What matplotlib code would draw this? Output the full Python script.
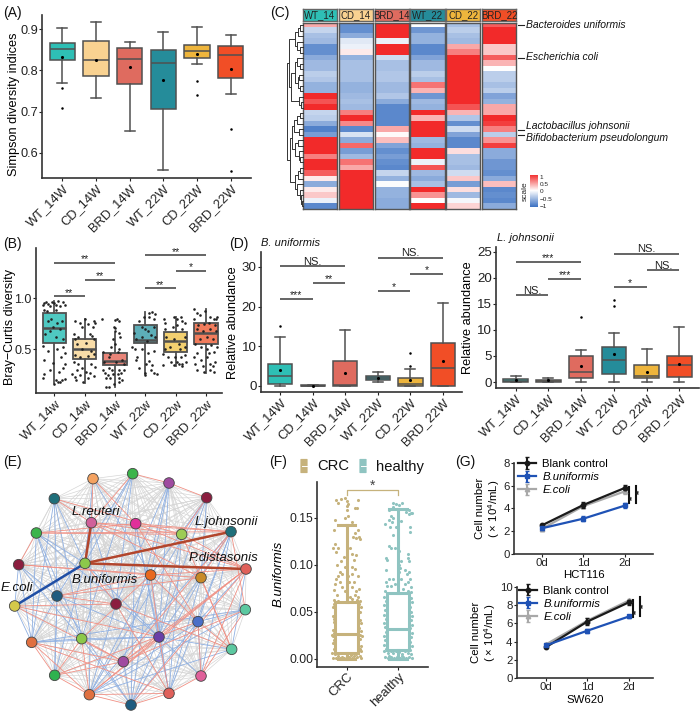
import matplotlib
matplotlib.use("Agg")
import matplotlib.pyplot as plt
from matplotlib.colors import LinearSegmentedColormap
from matplotlib.patches import FancyBboxPatch
from itertools import combinations

plt.rcParams['font.family'] = ['Liberation Sans', 'DejaVu Sans']
plt.rcParams['mathtext.default'] = 'regular'
plt.rcParams['axes.spines.top'] = False
plt.rcParams['axes.spines.right'] = False

W, H = 700, 711

# colours of the six mouse groups
box_colors = ['#2EBFB5', '#F9D291', '#DF6B5F', '#258C9A', '#EEB53C', '#F14E26']
box_colors_b = ['#4FC9C2', '#F9DDA8', '#E98579', '#5DAEB8', '#F3D070', '#F17C5C']

# panel A
groups_W = ['WT_14W', 'CD_14W', 'BRD_14W', 'WT_22W', 'CD_22W', 'BRD_22W']
a_wlo = [.769, .732, .653, .558, .815, .743]
a_q1 = [.826, .787, .768, .705, .831, .782]
a_med = [.851, .825, .828, .818, .847, .836]
a_q3 = [.866, .872, .855, .848, .862, .858]
a_whi = [.903, .918, .869, .894, .906, .886]
a_mean = [.833, .826, .807, .776, .840, .804]
a_fliers = [[.758, .708], [], [], [], [.774, .741], [.658, .555]]

# panel B
groups_w = ['WT_14w', 'CD_14w', 'BRD_14w', 'WT_22w', 'CD_22w', 'BRD_22w']
b_wlo = [.17, .17, .13, .26, .34, .27]
b_q1 = [.56, .405, .345, .56, .475, .55]
b_med = [.71, .505, .39, .59, .585, .66]
b_q3 = [.86, .60, .465, .74, .67, .76]
b_whi = [.97, .80, .66, .87, .82, .90]
b_pts = [
    [(-.38, .93), (-.33, .95), (-.26, .96), (-.2, .94), (-.14, .92), (-.08, .96), (0, .95), (.06, .93), (.12, .97),
     (.2, .92), (.28, .96), (.34, .93), (-.35, .89), (-.25, .88), (.05, .89), (-.2, .78), (-.1, .8), (.1, .76),
     (.25, .78), (-.3, .65), (-.15, .68), (.05, .62), (.2, .7), (.3, .6), (-.05, .72), (-.38, .53), (-.2, .48),
     (.1, .5), (.28, .52), (.34, .46), (-.32, .4), (-.05, .37), (.22, .42), (.3, .32), (.15, .28), (.36, .36),
     (-.35, .26), (-.36, .22), (.05, .2), (.25, .2), (.34, .21), (-.02, .16), (.12, .18), (-.15, .3), (.2, .18)],
    [(-.3, .78), (-.15, .76), (-.1, .72), (0, .8), (.12, .75), (.3, .78), (.36, .76), (.28, .72), (-.35, .65),
     (-.3, .6), (-.2, .62), (.18, .65), (.25, .63), (.3, .6), (-.25, .55), (-.1, .5), (.05, .56), (.2, .48), (.3, .45),
     (-.3, .44), (-.15, .42), (.12, .43), (-.36, .38), (-.2, .36), (.2, .36), (.35, .33), (-.25, .3), (-.1, .32),
     (.05, .28), (.18, .27), (-.4, .26), (-.32, .23), (-.28, .2), (-.15, .25), (-.05, .18), (.1, .22), (.3, .24)],
    [(-.42, .8), (.0, .71), (-.02, .72), (.0, .68), (.02, .79), (.08, .8), (.15, .78), (.12, .66), (.18, .62),
     (-.05, .6), (.0, .55), (-.12, .52), (.12, .5), (-.38, .47), (-.15, .45), (.1, .47), (-.2, .42), (.25, .4),
     (-.35, .38), (.05, .38), (.3, .36), (-.38, .3), (-.2, .32), (-.08, .3), (.12, .3), (.3, .3), (-.34, .27),
     (-.22, .25), (-.05, .26), (.1, .26), (.2, .27), (-.3, .22), (-.15, .22), (.15, .22), (.22, .2), (-.02, .16),
     (-.28, .13), (-.2, .13), (.12, .18)],
    [(-.05, .82), (.12, .86), (.22, .87), (.32, .85), (.3, .8), (.12, .82), (-.2, .78), (-.38, .66), (-.12, .72),
     (.0, .7), (.08, .68), (.28, .72), (-.3, .6), (-.12, .62), (.05, .58), (.2, .64), (.33, .62), (-.42, .52),
     (-.35, .5), (-.1, .5), (.1, .46), (.28, .48), (-.28, .42), (.02, .36), (.22, .35), (-.2, .32), (.0, .27), (.2, .3),
     (.3, .27), (.38, .26), (-.02, .25), (-.3, .4), (.14, .39)],
    [(-.38, .8), (-.35, .76), (-.05, .82), (.05, .8), (.2, .78), (.18, .82), (.3, .76), (-.35, .7), (-.1, .72),
     (.05, .74), (.2, .7), (-.3, .62), (-.05, .6), (.3, .62), (.1, .55), (-.35, .5), (-.2, .52), (.15, .5), (.32, .52),
     (-.4, .45), (-.25, .42), (-.02, .42), (.18, .42), (.32, .44), (-.15, .38), (.05, .38), (.2, .36), (-.42, .35),
     (-.05, .35), (.1, .36), (.22, .34), (.34, .38)],
    [(-.38, .9), (-.3, .86), (-.2, .84), (-.02, .88), (.12, .82), (.28, .8), (.33, .8), (.38, .82), (-.38, .8),
     (-.25, .74), (-.05, .75), (.1, .76), (.3, .74), (-.3, .7), (-.1, .68), (.15, .7), (.32, .68), (-.2, .6), (.05, .62),
     (.24, .6), (-.35, .55), (-.15, .52), (.02, .5), (.18, .54), (.36, .52), (-.3, .46), (.1, .46), (.25, .47),
     (-.38, .42), (-.15, .4), (.05, .42), (.3, .38), (-.36, .36), (-.1, .34), (.12, .36), (.22, .34), (-.3, .3),
     (-.05, .28), (.12, .3), (.25, .28)],
]
b_sig_left = [0, 1, 0, 3, 4, 3]
b_sig_right = [1, 2, 2, 4, 5, 5]
b_sig_y = [1.02, 1.18, 1.35, 1.1, 1.27, 1.42]
b_sig_text = ['**', '**', '**', '**', '*', '**']

# panel C
heat_names = ['WT_14', 'CD_14', 'BRD_14', 'WT_22', 'CD_22', 'BRD_22']
heat_wt14 = [.4, -.3, -.45, -.5, -.8, -.8, -.6, -.5, -.5, -.35, -.4, -.55, -.55, 1, .8, 1, -.3,
             -.35, -.6, -.9, -.7, 1, 1, 1, .6, 1, 1, .75, .1, -.6, .1, .25, -.1, -.85]
heat_cd14 = [-.8, -.8, -.6, -.15, -.1, .1, -.55, -.45, -.45, -.45, -.45, -.55, -.55, -.5, -.45, -.5, .6,
             1, .55, -.85, -.2, -.6, .7, -.7, -.5, .65, .4, 1, 1, 1, 1, 1, 1, 1]
heat_brd14 = [1, 1, 1, -.1, 1, 1, -.25, -.45, -.45, -.4, -.4, -.5, -.5, -.4, -.6, -.85, -.85,
              -.85, -.85, .4, .02, .3, -.65, -.8, -.7, -.8, -.85, -.3, -.55, -.02, -.55, -.55, -.6, -.6]
heat_wt22 = [0, -.75, -.55, -.55, -.85, -.85, -.65, -.5, -.5, -.35, -.45, .65, .35, -.75, -.5, -.55, 1,
             .35, 1, 1, 1, -.5, -.55, 1, 1, -.1, .8, -.5, -.6, -.45, 1, .5, 0, 1]
heat_cd22 = [-.45, -.35, -.45, -.5, .4, .6, 1, 1, 1, 1, 1, 1, 1, 1, 1, .8, .35,
             -.4, -.8, -.25, -.65, -.85, -.85, .15, -.45, -.45, -.5, -.25, .25, -.7, .15, -.5, -.05, .2]
heat_brd22 = [.75, 1, 1, 1, .25, .25, .75, .35, 0, -.35, -.35, -.45, -.35, -.65, -.55, .4, .4,
              1, .9, .6, -.35, .5, .9, -.6, -.6, -.75, -.75, -.8, -.6, .3, -.85, -.8, -.85, -.6]
heat_columns = [heat_wt14, heat_cd14, heat_brd14, heat_wt22, heat_cd22, heat_brd22]
heat_header = ['#2EBFB5', '#F9D291', '#DF6B5F', '#258C9A', '#EEB53C', '#F14E26']
scale_ticks = [1, .5, 0, -.5, -1]
scale_labels = ['1', '0.5', '0', '\u22120.5', '\u22121']
species = ['Bacteroides uniformis', 'Escherichia coli', 'Lactobacillus johnsonii', 'Bifidobacterium pseudolongum']

# row tree, each node is [height, left, right]
upper_a = [24, [14, [8, 0, 1], 2], [18, 3, [9, 4, 5]]]
upper_b = [34, [22, [16, 6, [10, 7, 8]], [14, [12, 9, 10], [8, 11, 12]]], [12, 13, [7, 14, 15]]]
lower_a = [26, [16, [10, 16, 17], 18], [12, 19, 20]]
lower_b = [22, [14, 21, 22], [12, 23, [8, 24, 25]]]
lower_c = [24, [14, [8, 26, 27], 28], [16, 29, [10, 30, [6, 31, [4, 32, 33]]]]]
row_tree = [46, [40, upper_a, upper_b], [38, [32, lower_a, lower_b], lower_c]]

# panel D
d1_wlo = [.1, 0, .1, 1, .1, .1]
d1_q1 = [.6, .1, .1, 1.5, .1, .1]
d1_med = [2.6, .1, .2, 2.1, .4, 4.5]
d1_q3 = [5.6, .15, 6.4, 2.6, 1.9, 10.8]
d1_whi = [12.3, .15, 14.1, 3.6, 4.4, 20.9]
d1_mean = [4, .1, 3.2, 2, 1.4, 6.2]
d1_fliers = [[15], [], [], [], [5, 8.2], []]
d1_sig_left = [0, 1, 0, 3, 4, 3]
d1_sig_right = [1, 2, 2, 4, 5, 5]
d1_sig_y = [22, 26, 30.2, 24, 28.2, 32.3]
d1_sig_text = ['***', '**', 'NS.', '*', '*', 'NS.']

d2_wlo = [0, 0, 0, 0, 0, .1]
d2_q1 = [.05, .05, .7, 1.6, .7, .9]
d2_med = [.2, .15, 1.9, 4.2, 1.1, 3.3]
d2_q3 = [.5, .3, 4.9, 6.8, 3.2, 4.9]
d2_whi = [1.2, .7, 6.2, 9.5, 6.3, 10.5]
d2_mean = [.3, .3, 3, 5.3, 1.9, 3.5]
d2_fliers = [[], [], [12.4], [14.6, 15.8], [], []]
d2_sig_left = [0, 1, 0, 3, 4, 3]
d2_sig_right = [1, 2, 2, 4, 5, 5]
d2_sig_y = [16.7, 19.8, 23, 18.2, 21.4, 24.6]
d2_sig_text = ['NS.', '***', '***', '*', 'NS.', 'NS.']

# panel E, node positions on a 870 x 873 canvas
node_x = [398, 507, 620, 693, 738, 736, 695, 603, 507, 393, 268, 164, 95, 44, 56, 109, 163, 279,
          274, 407, 545, 255, 452, 603, 171, 348, 594, 245, 477, 370]
node_y = [161, 189, 233, 335, 447, 569, 688, 768, 820, 855, 824, 766, 667, 558, 434, 339, 236, 176,
          308, 311, 343, 430, 465, 473, 528, 552, 605, 656, 651, 725]
node_colors = ['#3CB44B', '#A04BA0', '#8B1E3F', '#1F6F7A', '#E0605A', '#5CC8A0', '#5CC8A0', '#E0609A',
               '#E0605A', '#1F5C80', '#E07040', '#2FB24F', '#E07040', '#D4C94A', '#8B1E3F', '#3CB44B',
               '#1F6F7A', '#F4A261', '#D0609A', '#E0309A', '#9CCC55', '#8CC84B', '#E8681E', '#C88A28',
               '#1F5C80', '#8B1E3F', '#4A6FC8', '#8CC84B', '#6A3FA8', '#A04BA0']
red_edges = [(0, 1), (1, 2), (2, 20), (0, 18), (17, 18), (17, 19), (16, 20), (16, 18), (15, 19), (15, 20), (15, 3),
             (18, 3), (18, 20), (19, 4), (19, 3), (18, 4), (18, 23), (14, 22), (14, 23), (14, 15), (22, 4), (22, 26),
             (22, 28), (20, 4), (23, 3), (25, 21), (24, 23), (24, 22), (24, 25), (13, 25), (13, 28), (13, 29), (12, 8),
             (12, 10), (12, 29), (12, 11), (11, 10), (11, 29), (11, 26), (10, 28), (10, 4), (10, 9), (10, 8), (9, 4),
             (9, 8), (8, 28), (8, 7), (7, 5), (7, 4), (28, 4), (29, 4), (29, 3), (29, 28), (29, 5), (25, 8), (25, 6),
             (27, 11), (27, 10), (27, 22), (27, 29), (26, 6), (26, 7), (3, 5), (19, 26), (20, 6), (23, 6)]
blue_edges = [(0, 25), (0, 21), (0, 24), (0, 27), (1, 22), (1, 25), (1, 28), (1, 29), (2, 22), (2, 23), (2, 10),
              (2, 28), (3, 26), (3, 8), (3, 10), (3, 28), (3, 7), (4, 6), (4, 26), (15, 12), (15, 21), (15, 24),
              (15, 27), (15, 28), (16, 24), (16, 27), (16, 12), (16, 21), (17, 22), (17, 21), (14, 13), (14, 24),
              (14, 12), (14, 27), (13, 12), (24, 11), (24, 9), (24, 12), (24, 28), (12, 27), (12, 28), (27, 28),
              (27, 9), (10, 25), (10, 22), (10, 26), (10, 6), (10, 5), (9, 26), (9, 28), (9, 22), (9, 29), (8, 19),
              (8, 22), (7, 28), (7, 26), (5, 26), (6, 28), (19, 9), (19, 28), (20, 8), (20, 28), (23, 8), (23, 9),
              (21, 28), (18, 10), (18, 25), (11, 24), (11, 21), (12, 5)]
strong_red = [(21, 18), (21, 3), (21, 4)]
strong_blue = [(21, 13)]
node_names = ['L.reuteri', 'L.johnsonii', 'P.distasonis', 'B.uniformis', 'E.coli']
name_x = [215, 585, 565, 215, 3]
name_y = [276, 305, 413, 480, 505]

# panel F
f_names = ['CRC', 'healthy']
f_colors = ['#C6B27C', '#8FC4C1']
f_wlo = [0, 0]
f_q1 = [.006, .01]
f_med = [.027, .032]
f_q3 = [.061, .07]
f_whi = [.142, .159]
f_crc = [(-.2, .169), (-.17, .166), (-.12, .17), (-.03, .171), (0, .168), (.02, .165), (.01, .162), (.22, .169),
         (.16, .16), (.2, .16), (.0, .158), (.02, .152), (-.03, .15), (-.22, .148), (-.24, .137), (.1, .146),
         (.22, .137), (.16, .134), (.24, .13), (.18, .128), (.26, .127), (.12, .13), (-.22, .122), (-.16, .118),
         (-.26, .118), (-.2, .114), (.06, .118), (.1, .112), (.18, .11), (-.05, .108), (.14, .105), (-.12, .104),
         (-.18, .1), (-.04, .098), (.1, .098), (.16, .096), (-.14, .092), (-.1, .09), (-.16, .088), (.1, .09),
         (.03, .088), (.22, .088), (-.2, .085), (-.14, .082), (-.22, .08), (.05, .082), (.14, .082), (.1, .076),
         (-.1, .076), (-.24, .073), (-.04, .072), (.24, .074), (.18, .072), (.16, .068), (-.18, .068), (.06, .066),
         (.22, .066), (-.16, .062), (.2, .063), (.1, .064), (-.24, .058), (-.26, .055), (-.23, .05), (.24, .058),
         (.27, .055), (.25, .05), (-.27, .046), (-.24, .043), (-.25, .039), (.23, .045), (.26, .041), (.28, .038),
         (-.23, .034), (-.27, .031), (-.24, .028), (.24, .033), (.27, .03), (.25, .026), (-.26, .024), (-.24, .02),
         (-.27, .017), (-.23, .014), (.26, .021), (.23, .018), (.28, .014), (-.25, .011), (.25, .011), (.27, .008),
         (-.28, .006), (-.22, .005), (-.16, .003), (-.1, .002), (-.05, .001), (0, .003), (.05, .002), (.1, .001),
         (.15, .003), (.2, .002), (.25, .003), (.28, .001), (-.26, .001), (-.2, .001), (-.14, .001), (.08, .004),
         (.18, .005), (-.24, .063), (.26, .062), (-.28, .026), (.29, .024)]
f_healthy = [(-.1, .166), (-.04, .165), (.02, .164), (.08, .166), (-.1, .161), (-.18, .158), (.22, .158), (.16, .156),
             (.26, .155), (.22, .154), (.28, .155), (-.14, .152), (-.1, .15), (-.18, .148), (.06, .147), (-.12, .145),
             (-.26, .143), (-.16, .14), (-.04, .14), (.24, .14), (-.1, .132), (.24, .135), (-.18, .12), (-.14, .118),
             (-.06, .118), (.02, .115), (.2, .112), (.2, .107), (-.24, .107), (-.22, .105), (.06, .104), (.02, .1),
             (.22, .104), (.04, .097), (-.24, .095), (.14, .095), (.02, .092), (.22, .092), (.18, .09), (-.18, .085),
             (-.1, .085), (-.24, .082), (.06, .085), (.2, .082), (.24, .085), (-.14, .078), (-.06, .08), (.14, .08),
             (-.22, .077), (.26, .076), (.2, .072), (.1, .074), (-.26, .072), (.25, .071), (-.28, .066), (-.24, .062),
             (-.27, .057), (.25, .065), (.27, .06), (.24, .055), (-.25, .052), (-.28, .047), (.26, .05), (.28, .046),
             (-.24, .043), (-.27, .038), (.25, .041), (.27, .036), (-.26, .034), (-.24, .029), (.24, .033), (.28, .028),
             (-.27, .024), (-.25, .02), (.26, .023), (.24, .018), (-.28, .015), (-.24, .011), (.27, .014), (.24, .01),
             (-.27, .008), (-.2, .006), (-.14, .008), (-.09, .006), (-.04, .008), (.03, .007), (.08, .005), (.13, .008),
             (.19, .006), (.25, .005), (-.26, .002), (-.2, .001), (-.14, .002), (-.08, .001), (-.02, .002), (.04, .001),
             (.1, .002), (.16, .001), (.22, .002), (.28, .001), (-.17, .003), (.07, .003)]
f_pts = [f_crc, f_healthy]

# panel G
g_days = ['0d', '1d', '2d']
g_names = ['Blank control', 'B.uniformis', 'E.coli']
g_colors = ['#1A1A1A', '#1F52B5', '#A8A8A8']
g_markers = ['o', 's', '^']
hct_blank = [2.5, 4.3, 5.8]
hct_buni = [2.25, 3.1, 4.25]
hct_ecoli = [2.2, 4.2, 5.5]
hct_err = [[.15, .25, .22], [.12, .22, .22], [.15, .2, .2]]
sw_blank = [3.4, 6.2, 8.3]
sw_buni = [3.6, 5.2, 6.75]
sw_ecoli = [3.7, 6.3, 8.5]
sw_err = [[.12, .35, .25], [.1, .2, .12], [.12, .25, .2]]


fig = plt.figure(figsize=(W / 100, H / 100), dpi=100)


def px_axes(left, top, right, bottom):
    return fig.add_axes([left / W, 1 - bottom / H, (right - left) / W, (bottom - top) / H])


def clean(ax, size=9.2):
    for s in ['left', 'bottom']:
        ax.spines[s].set_linewidth(1.2)
        ax.spines[s].set_color('#333333')
    ax.tick_params(labelsize=size, length=2, width=.8, pad=1, colors='#222222')


def rotated_labels(ax, labels, size=9.3):
    ax.set_xticks(range(len(labels)))
    ax.set_xticklabels(labels, rotation=45, ha='right', rotation_mode='anchor', fontsize=size)


def draw_boxes(ax, wlo, q1, med, q3, whi, colors, means=None, fliers=None, width=.75, capw=.3, lw=1.1, zorder=2,
               edge='#505050', medlw=None):
    stats = []
    for i in range(len(wlo)):
        stats.append(dict(whislo=wlo[i], q1=q1[i], med=med[i], q3=q3[i], whishi=whi[i],
                          fliers=fliers[i] if fliers else []))
    res = ax.bxp(stats, positions=range(len(wlo)), widths=width, capwidths=capw, patch_artist=True,
                 manage_ticks=False, zorder=zorder,
                 boxprops=dict(linewidth=lw, edgecolor=edge),
                 medianprops=dict(color=edge, linewidth=medlw or lw),
                 whiskerprops=dict(color=edge, linewidth=lw),
                 capprops=dict(color=edge, linewidth=lw),
                 flierprops=dict(marker='o', markersize=1.8, markerfacecolor='black', markeredgecolor='none'))
    for patch, c in zip(res['boxes'], colors):
        patch.set_facecolor(c)
    if means:
        ax.scatter(range(len(means)), means, s=5, color='black', linewidths=0, zorder=zorder + 2)


def sig_bars(ax, left, right, ys, texts, gap, size=7.5):
    for a, b, y, t in zip(left, right, ys, texts):
        ax.plot([a, b], [y, y], color='#3A3A3A', lw=1.1, solid_capstyle='butt', clip_on=False)
        off = -.1 if t == 'NS.' else -.25
        ax.text((a + b) / 2, y + gap * off, t, ha='center', va='bottom', fontsize=size + (.5 if t == 'NS.' else 0),
                color='#222222')


# (A)
ax = px_axes(42, 15, 251, 178)
draw_boxes(ax, a_wlo, a_q1, a_med, a_q3, a_whi, box_colors, a_mean, a_fliers)
ax.set_xlim(-.6, 5.6)
ax.set_ylim(.539, .934)
ax.set_yticks([.6, .7, .8, .9])
clean(ax)
rotated_labels(ax, groups_W)
ax.set_ylabel('Simpson diversity indices', fontsize=9.2)
ax.yaxis.set_label_coords(-.105, .454)

# (B)
ax = px_axes(36, 248, 222, 393)
draw_boxes(ax, b_wlo, b_q1, b_med, b_q3, b_whi, box_colors_b, width=.77, capw=0, lw=1.3, medlw=1.8)
for i, pts in enumerate(b_pts):
    ax.scatter([i + p[0] for p in pts], [p[1] for p in pts], s=3.5, color='#222222', linewidths=0, zorder=5)
ax.set_xlim(-.6, 5.53)
ax.set_ylim(.072, 1.493)
ax.set_yticks([.5, 1.0])
clean(ax, 9)
rotated_labels(ax, groups_w)
ax.set_ylabel('Bray\u2212Curtis diversity', fontsize=9)
ax.yaxis.set_label_coords(-.11, .457)
sig_bars(ax, b_sig_left, b_sig_right, b_sig_y, b_sig_text, .06)

# (C)
cmap = LinearSegmentedColormap.from_list('scale', ['#3F74C4', '#FFFFFF', '#F22A2A'])
col_left = [303, 339, 374.7, 410.3, 446.3, 482.3]
col_right = [337, 373, 409, 445, 480.3, 516.3]
for i, col in enumerate(heat_columns):
    ax = px_axes(col_left[i], 22.5, col_right[i], 209)
    ax.imshow([[v] for v in col], cmap=cmap, vmin=-1, vmax=1, aspect='auto', interpolation='nearest')
    ax.set_xticks([])
    ax.set_yticks([])
    for s in ax.spines.values():
        s.set_visible(True)
        s.set_color('#555555')
        s.set_linewidth(1)
    hd = px_axes(col_left[i], 9, col_right[i], 21)
    hd.set_facecolor(heat_header[i])
    hd.set_xticks([])
    hd.set_yticks([])
    for s in hd.spines.values():
        s.set_visible(True)
        s.set_color('#666666')
        s.set_linewidth(1)
    hd.text(.5, .47, heat_names[i], transform=hd.transAxes, ha='center', va='center', fontsize=6.9, color='#222222')

tree_ax = px_axes(287, 22.5, 303, 209)
tree_ax.set_xlim(46, 0)
tree_ax.set_ylim(33.5, -.5)
tree_ax.axis('off')


def draw_tree(node):
    # returns the row position of a branch and its height
    if not isinstance(node, list):
        return node, 0
    h, a, b = node
    ya, ha = draw_tree(a)
    yb, hb = draw_tree(b)
    tree_ax.plot([ha, h, h, hb], [ya, ya, yb, yb], color='#333333', lw=.7, clip_on=False)
    return (ya + yb) / 2, h


draw_tree(row_tree)

scale_ax = px_axes(530, 175, 538, 207.5)
scale_ax.imshow([[v / 20] for v in range(20, -21, -1)], cmap=cmap, vmin=-1, vmax=1, aspect='auto',
                extent=[0, 1, -1.12, 1.12])
scale_ax.set_xticks([])
scale_ax.yaxis.tick_right()
scale_ax.set_yticks(scale_ticks)
scale_ax.set_yticklabels(scale_labels)
scale_ax.tick_params(labelsize=4.6, length=0, pad=1, colors='#222222')
for s in scale_ax.spines.values():
    s.set_visible(False)

# (D)
ax = px_axes(260.7, 252.3, 461.7, 392.3)
draw_boxes(ax, d1_wlo, d1_q1, d1_med, d1_q3, d1_whi, box_colors, d1_mean, d1_fliers)
ax.set_xlim(-.6, 5.58)
ax.set_ylim(-1.6, 33.7)
ax.set_yticks([0, 10, 20, 30])
clean(ax, 9.6)
rotated_labels(ax, groups_W)
ax.set_ylabel('Relative abundance', fontsize=9.2, labelpad=2)
sig_bars(ax, d1_sig_left, d1_sig_right, d1_sig_y, d1_sig_text, 1.4)

ax = px_axes(496, 247.3, 699, 388.3)
draw_boxes(ax, d2_wlo, d2_q1, d2_med, d2_q3, d2_whi, box_colors, d2_mean, d2_fliers)
ax.set_xlim(-.6, 5.6)
ax.set_ylim(-1.2, 25.84)
ax.set_yticks([0, 5, 10, 15, 20, 25])
clean(ax, 9.6)
rotated_labels(ax, groups_W)
ax.set_ylabel('Relative abundance', fontsize=9.2, labelpad=2)
sig_bars(ax, d2_sig_left, d2_sig_right, d2_sig_y, d2_sig_text, 1.05)

# (E)
ax = px_axes(0, 420, 290, 711)
ax.set_xlim(0, 870)
ax.set_ylim(873, 0)
ax.axis('off')
coloured = set(red_edges) | set(blue_edges) | set(strong_red) | set(strong_blue)
coloured |= {(b, a) for a, b in coloured}
for a, b in combinations(range(len(node_x)), 2):
    if (a, b) not in coloured:
        ax.plot([node_x[a], node_x[b]], [node_y[a], node_y[b]], color='#D6D6D6', lw=.5, zorder=1)
for a, b in blue_edges:
    ax.plot([node_x[a], node_x[b]], [node_y[a], node_y[b]], color='#8FB0E2', lw=.6, zorder=2)
for a, b in red_edges:
    ax.plot([node_x[a], node_x[b]], [node_y[a], node_y[b]], color='#F09084', lw=.6, zorder=2)
for a, b in strong_red:
    ax.plot([node_x[a], node_x[b]], [node_y[a], node_y[b]], color='#B2452C', lw=1.8, zorder=3)
for a, b in strong_blue:
    ax.plot([node_x[a], node_x[b]], [node_y[a], node_y[b]], color='#1F4EA5', lw=1.8, zorder=3)
ax.scatter(node_x, node_y, s=58, c=node_colors, edgecolors='#444444', linewidths=.6, zorder=4)
for t, x, y in zip(node_names, name_x, name_y):
    ax.text(x, y, t, fontsize=9.5, style='italic', ha='left', va='center', color='#111111', zorder=5)

# (F)
ax = px_axes(317.3, 482, 427.7, 666.7)
for i, pts in enumerate(f_pts):
    ax.scatter([i + p[0] for p in pts], [p[1] for p in pts], s=5, color=f_colors[i], linewidths=0, zorder=1)
for i in range(2):
    res = ax.bxp([dict(whislo=f_wlo[i], q1=f_q1[i], med=f_med[i], q3=f_q3[i], whishi=f_whi[i], fliers=[])],
                 positions=[i], widths=.44, capwidths=.34, patch_artist=True, manage_ticks=False, zorder=3,
                 boxprops=dict(linewidth=2.2, edgecolor=f_colors[i], facecolor='white'),
                 medianprops=dict(color=f_colors[i], linewidth=2.2),
                 whiskerprops=dict(color=f_colors[i], linewidth=2.2),
                 capprops=dict(color=f_colors[i], linewidth=2.2))
ax.plot([0, 0, 1, 1], [.174, .18, .18, .174], color=f_colors[0], lw=.9)
ax.text(.5, .1765, '*', ha='center', va='bottom', fontsize=10, color='#444444')
ax.set_xlim(-.573, 1.58)
ax.set_ylim(-.0082, .188)
ax.set_yticks([0, .05, .10, .15])
ax.set_yticklabels(['0.00', '0.05', '0.10', '0.15'])
clean(ax, 8.8)
rotated_labels(ax, f_names, 9.4)
ax.set_ylabel('B.uniformis', fontsize=9.5, style='italic', labelpad=3)

# (G)
for (top, bottom, left, right, xl, yl, yt, series, errs, label, leg_x, leg_y, bars) in [
    (462.7, 554, 514.3, 652.7, (-.657, 2.66), (0, 8), [0, 2, 4, 6, 8], [hct_blank, hct_buni, hct_ecoli], hct_err,
     'HCT116', .03, 1.04, [(5.9, 4.45, 4.95), (6.0, 4.5, 5.45)]),
    (586.7, 678.3, 516.7, 653.3, (-.706, 2.586), (0, 10), [0, 2, 4, 6, 8, 10], [sw_blank, sw_buni, sw_ecoli], sw_err,
     'SW620', .02, 1.013, [(8.6, 6.7, 7.3), (8.9, 6.8, 7.95)]),
]:
    ax = px_axes(left, top, right, bottom)
    for vals, err, c, m, name in zip(series, errs, g_colors[:3], g_markers, g_names):
        ax.errorbar(range(3), vals, yerr=err, color=c, marker=m, ms=3.2, lw=1.6, capsize=1.5, capthick=1,
                    elinewidth=1.5, label=name, zorder={'#1A1A1A': 4, '#1F52B5': 5}.get(c, 3))
    ax.set_xlim(*xl)
    ax.set_ylim(*yl)
    ax.set_yticks(yt)
    ax.set_xticks(range(3))
    ax.set_xticklabels(g_days)
    clean(ax, 8.2)
    ax.set_xlabel(label, fontsize=8.2, labelpad=1.5)
    ax.set_ylabel('Cell number\n( \u00d7 10$^4$/mL)', fontsize=8.2, labelpad=1, linespacing=1.1)
    leg = ax.legend(loc='upper left', bbox_to_anchor=(leg_x, leg_y), frameon=False, fontsize=8.2, handlelength=1.5,
                    labelspacing=.28, handletextpad=.6, borderpad=0, borderaxespad=0)
    for t in leg.get_texts()[1:]:
        t.set_fontstyle('italic')
    for xpos, (y1, y2, ystar) in zip([2.1, 2.26], bars):
        ax.plot([xpos, xpos], [y1, y2], color='#111111', lw=1.5, clip_on=False)
        ax.text(xpos + .09, ystar, '**', rotation=90, ha='center', va='center', fontsize=4.8, color='#222222',
                fontweight='bold')

# texts and small marks that sit outside the axes, in pixels
ov = fig.add_axes([0, 0, 1, 1], facecolor='none')
ov.set_xlim(0, W)
ov.set_ylim(H, 0)
ov.axis('off')
panel_labels = ['(A)', '(B)', '(C)', '(D)', '(E)', '(F)', '(G)']
label_x = [3, 3, 270, 229, 3, 269, 455]
label_y = [13, 244, 13, 244, 462, 462, 462]
for t, x, y in zip(panel_labels, label_x, label_y):
    ov.text(x, y, t, fontsize=10, va='center', ha='left', color='#111111')

ov.text(261, 243, 'B. uniformis', fontsize=8, style='italic', va='center', color='#111111')
ov.text(497, 238, 'L. johnsonii', fontsize=8, style='italic', va='center', color='#111111')

species_y = [24.5, 57.5, 126, 138]
line_y = [25, 58, 129.5, 135]
for t, ty, ly in zip(species, species_y, line_y):
    ov.plot([518, 524], [ly, ly], color='#222222', lw=.8)
    ov.text(525.5, ty, t, fontsize=7.45, style='italic', va='center', color='#111111')
ov.text(525, 191, 'scale', rotation=90, fontsize=6, ha='center', va='center', color='#222222')

legend_x = [304, 363]
legend_text_x = [317, 376]
for i in range(2):
    ov.add_patch(FancyBboxPatch((legend_x[i] - 3, 459.5), 6, 13, boxstyle='round,pad=0.6', fc=f_colors[i], ec='none'))
    ov.plot([legend_x[i] - 2.5, legend_x[i] + 2.5], [466, 466], color='white', lw=.7)
    ov.text(legend_text_x[i], 466.5, f_names[i], fontsize=10.6, va='center', color='#111111')

fig.savefig('out.png', dpi=100)
